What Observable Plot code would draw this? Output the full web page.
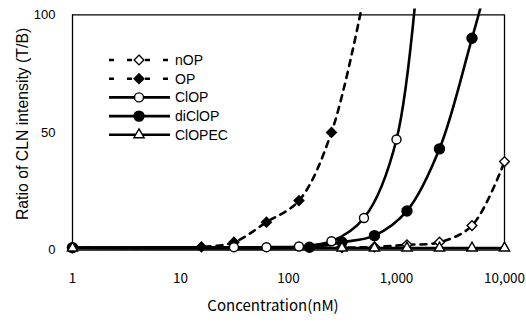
<!DOCTYPE html>
<html><head><meta charset="utf-8">
<script src="https://cdn.jsdelivr.net/npm/d3@7"></script>
<script src="https://cdn.jsdelivr.net/npm/@observablehq/plot@0.6"></script>
<style>body{margin:0;background:#fff} svg{display:block}</style>
</head><body><div id="chart"></div>
<script>
// ---- data ----
const seriesNames = ["nOP", "OP", "ClOP", "diClOP", "ClOPEC"];
const nOP_x    = [1, 312.5, 625, 1250, 2500, 5000, 10000];
const nOP_y    = [1, 1.0, 1.3, 2.2, 3.3, 10.4, 37.6];
const OP_x     = [1, 15.625, 31.25, 62.5, 125, 250, 500];
const OP_y     = [1, 1.3, 3.3, 11.8, 21, 50, 108];
const ClOP_x   = [1, 31.25, 62.5, 125, 250, 500, 1000, 2000];
const ClOP_y   = [1, 1.2, 1.2, 1.5, 3.7, 13.6, 47, 180];
const diClOP_x = [1, 156.25, 312.5, 625, 1250, 2500, 5000, 10000];
const diClOP_y = [1, 1.2, 3.3, 6.1, 16.6, 43, 90, 140];
const ClOPEC_x = [1, 312.5, 625, 1250, 2500, 5000, 10000];
const ClOPEC_y = [0.8, 0.8, 0.8, 0.8, 0.8, 0.8, 0.8];

const xTicks = [1, 10, 100, 1000, 10000];
const xTickLabels = ["1", "10", "100", "1,000", "10,000"];
const yTicks = [0, 50, 100];
const xTitle = "Concentration(nM)";
const yTitle = "Ratio of CLN intensity (T/B)";

// ---- build table ----
const xs = {nOP: nOP_x, OP: OP_x, ClOP: ClOP_x, diClOP: diClOP_x, ClOPEC: ClOPEC_x};
const ys = {nOP: nOP_y, OP: OP_y, ClOP: ClOP_y, diClOP: diClOP_y, ClOPEC: ClOPEC_y};
const rows = seriesNames.flatMap(s => xs[s].map((x, i) => ({series: s, x, y: ys[s][i]})));

const style = {
  nOP:    {dash: "6,6", symbol: "diamond2", fill: "white", r: 4.4},
  OP:     {dash: "6,6", symbol: "diamond2", fill: "black", r: 4.4},
  ClOP:   {dash: null,  symbol: "circle",   fill: "white", r: 4.5},
  diClOP: {dash: null,  symbol: "circle",   fill: "black", r: 5},
  ClOPEC: {dash: null,  symbol: "triangle", fill: "white", r: 3.8}
};
const labelMap = new Map(xTicks.map((t, i) => [t, xTickLabels[i]]));

const marks = [];
for (const s of seriesNames) {
  const data = rows.filter(d => d.series === s);
  const st = style[s];
  marks.push(Plot.line(data, {x: "x", y: "y", curve: "catmull-rom", stroke: "black",
    strokeWidth: 2.6, strokeDasharray: st.dash, clip: true}));
}
for (const s of seriesNames) {
  const data = rows.filter(d => d.series === s && d.y <= 100);
  const st = style[s];
  marks.push(Plot.dot(data, {x: "x", y: "y", symbol: st.symbol, r: st.r, fill: st.fill,
    stroke: "black", strokeWidth: 1.4}));
}

const chart = Plot.plot({
  width: 526, height: 322,
  marginLeft: 72, marginRight: 22, marginTop: 8.4, marginBottom: 72.5,
  style: {fontFamily: "'Liberation Sans', Arial, sans-serif", fontSize: "13px", background: "white", color: "black"},
  x: {type: "log", domain: [1, 10000]},
  y: {domain: [0, 102.5]},
  marks: [
    Plot.ruleY([0, 100], {x1: () => 1, x2: () => 10000, stroke: "black", strokeWidth: 1.3}),
    Plot.ruleX([1, 10000], {y1: () => 0, y2: () => 100, stroke: "black", strokeWidth: 1.3}),
    ...marks,
    Plot.axisX(xTicks, {tickSize: 0, tickPadding: 23, tickFormat: d => labelMap.get(d), label: null,
      fontFamily: "'Noto Sans CJK JP', sans-serif", fontSize: 13.5}),
    Plot.axisY(yTicks, {tickSize: 0, tickPadding: 17, label: null, fontSize: 13}),
    Plot.text([xTitle], {frameAnchor: "bottom", dx: -15.5, dy: 61, fontSize: 15,
      fontFamily: "'Noto Sans CJK JP', sans-serif"}),
    Plot.text([yTitle], {frameAnchor: "left", textAnchor: "middle", rotate: -90, dx: -50, dy: -5.5, fontSize: 15.8})
  ]
});

// ---- legend ----
const svg = d3.select(chart);
const lg = svg.append("g").attr("font-family", "'Liberation Sans', Arial, sans-serif")
  .attr("font-size", 14).attr("text-anchor", "start");
const symbolMap = {circle: d3.symbolCircle, diamond2: d3.symbolDiamond2, triangle: d3.symbolTriangle};
seriesNames.forEach((s, i) => {
  const st = style[s];
  const y = 60 + i * 18.7;
  lg.append("line").attr("x1", 109).attr("x2", 170).attr("y1", y).attr("y2", y)
    .attr("stroke", "black").attr("stroke-width", 2.6)
    .attr("stroke-dasharray", st.dash ? "5,13" : null);
  lg.append("path").attr("transform", `translate(139,${y})`)
    .attr("d", d3.symbol(symbolMap[st.symbol], Math.PI * st.r * st.r)())
    .attr("fill", st.fill).attr("stroke", "black").attr("stroke-width", 1.4);
  lg.append("text").attr("x", 175).attr("y", y).attr("dy", "0.35em").text(s);
});

document.getElementById("chart").appendChild(chart);
</script></body></html>
